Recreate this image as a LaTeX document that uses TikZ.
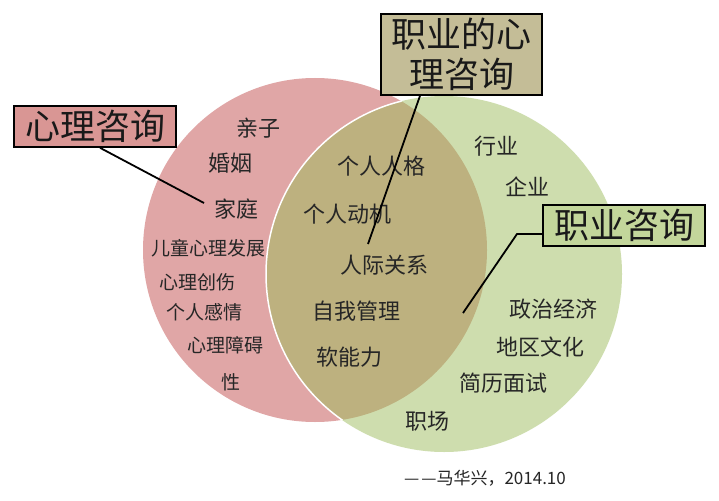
\documentclass[tikz,border=0pt]{standalone}
\usepackage{fontspec}
\setmainfont{Noto Sans CJK SC}
\definecolor{pinkc}{HTML}{E0A6A6}
\definecolor{greenc}{HTML}{CEDDAE}
\definecolor{overc}{HTML}{BDB17F}
\definecolor{boxa}{HTML}{D99694}
\definecolor{boxb}{HTML}{C4BD97}
\definecolor{boxc}{HTML}{C3D69B}
\begin{document}
\begin{tikzpicture}[x=1pt,y=-1pt,
  sm/.style={font=\fontsize{19}{19}\selectfont, inner sep=0pt, text=black!85},
  md/.style={font=\fontsize{22}{22}\selectfont, inner sep=0pt, text=black!85},
  titlebox/.style={draw=black, line width=1.6pt, inner sep=0pt, align=center,
    font=\fontsize{35}{40}\selectfont, text=black!90},
  conn/.style={draw=black, line width=1.8pt}]
\useasboundingbox (0,0) rectangle (719,500);
\fill[white] (0,0) rectangle (719,500);
% circles
\fill[pinkc] (315,250) circle (172pt);
\fill[greenc] (444,274) circle (178pt);
\begin{scope}
  \clip (315,250) circle (172pt);
  \fill[overc] (444,274) circle (178pt);
  \draw[white, line width=1.5pt] (444,274) circle (178pt);
\end{scope}
% pink labels
\node[md] (qinzi) at (258,128) {亲子};
\node[md] (hunyin) at (230,163) {婚姻};
\node[md] (jiating) at (236,209) {家庭};
\node[sm] (ertong) at (208,248) {儿童心理发展};
\node[sm] (chuangshang) at (197,282) {心理创伤};
\node[sm] (ganqing) at (204,312) {个人感情};
\node[sm] (zhangai) at (225,345) {心理障碍};
\node[sm] (xing) at (231,382) {性};
% overlap labels
\node[md] (renge) at (381,166) {个人人格};
\node[md] (dongji) at (347,214) {个人动机};
\node[md] (renji) at (384,265) {人际关系};
\node[md] (ziwo) at (356,311) {自我管理};
\node[md] (ruan) at (349,357) {软能力};
% green labels
\node[md] (hangye) at (496,146) {行业};
\node[md] (qiye) at (527,187) {企业};
\node[md] (zhengzhi) at (553,309) {政治经济};
\node[md] (diqu) at (540,347) {地区文化};
\node[md] (jianli) at (503,383) {简历面试};
\node[md] (zhichang) at (427,421) {职场};
% signature
\node[inner sep=0pt, font=\fontsize{17}{17}\selectfont, text=black!85] (sig) at (485,478) {—\kern2pt—马华兴，2014.10};
% title boxes
\node[titlebox, fill=boxa, minimum width=162pt, minimum height=41pt] (xl) at (95,126.5) {心理咨询};
\node[titlebox, fill=boxb, minimum width=161pt, minimum height=81pt] (zxl) at (461.5,54.5) {职业的心\\理咨询};
\node[titlebox, fill=boxc, minimum width=162pt, minimum height=41pt] (zy) at (624,225.5) {职业咨询};
% connectors
\coordinate (e1) at (204,203);
\coordinate (e2) at (368,244);
\coordinate (k3) at (517,234);
\coordinate (e3) at (463,313);
\draw[conn] ([xshift=5pt]xl.south) -- (e1);
\draw[conn] ([xshift=-41.5pt]zxl.south) -- (e2);
\draw[conn] ([yshift=-8.5pt]zy.west) -- (k3) -- (e3);
\end{tikzpicture}
\end{document}
